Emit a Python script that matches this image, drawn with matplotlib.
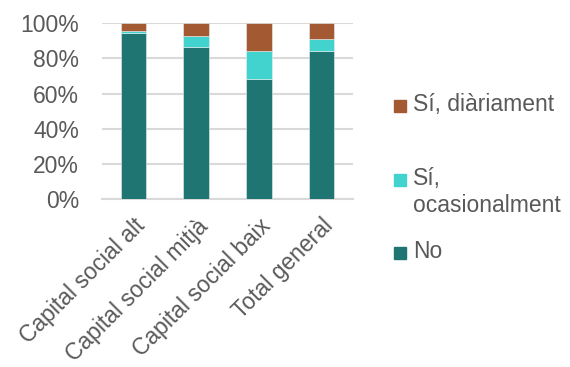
import matplotlib.pyplot as plt
from matplotlib.patches import Rectangle

plt.rcParams['font.family'] = ['Liberation Sans', 'DejaVu Sans']

categories = ['Capital social alt', 'Capital social mitjà', 'Capital social baix', 'Total general']
no_vals = [94.7, 86.7, 68.5, 84.4]
ocasional_vals = [1.1, 5.9, 15.8, 6.9]
diari_vals = [4.2, 7.4, 15.7, 8.7]

series_labels = ['No', 'Sí,\nocasionalment', 'Sí, diàriament']
series_colors = ['#1E7572', '#43D3CF', '#A35A32']
text_color = '#595959'
fs = 16.5

fig = plt.figure(figsize=(5.7, 3.67), dpi=100)
ax = fig.add_axes([0.179, 0.457, 0.44, 0.4795])

x = list(range(len(categories)))
bottom = [0.0] * len(categories)
for vals, color in zip([no_vals, ocasional_vals, diari_vals], series_colors):
    fr = [v / 100 for v in vals]
    ax.bar(x, fr, width=0.41, bottom=bottom, color=color, edgecolor='#E8F0F0', linewidth=0.4, zorder=3)
    bottom = [b + f for b, f in zip(bottom, fr)]

ax.set_xlim(-0.5, len(categories) - 0.5)
ax.set_ylim(0, 1)
ax.set_yticks([0, 0.2, 0.4, 0.6, 0.8, 1.0])
ax.set_yticklabels(['0%', '20%', '40%', '60%', '80%', '100%'])
ax.grid(axis='y', color='#D9D9D9', linewidth=1.5, zorder=0)
for s in ['top', 'right', 'left']:
    ax.spines[s].set_visible(False)
ax.spines['bottom'].set_color('#D9D9D9')
ax.spines['bottom'].set_linewidth(1.5)
ax.tick_params(axis='both', length=0, labelsize=fs, labelcolor=text_color)
ax.tick_params(axis='y', pad=16.5)
ax.set_xticks(x)
ax.set_xticklabels(categories, rotation=45, ha='right', va='top', rotation_mode='anchor')
ax.tick_params(axis='x', pad=11)

# legend drawn by hand so the square sits at the first text line
leg_items = [(series_labels[2], series_colors[2], 106),
             (series_labels[1], series_colors[1], 180),
             (series_labels[0], series_colors[0], 253)]
W, H = 570, 367
for label, color, yc in leg_items:
    fig.patches.append(Rectangle((394 / W, 1 - (yc + 6) / H), 12 / W, 12 / H,
                                 transform=fig.transFigure, color=color))
    fig.text(413 / W, 1 - (yc - 13) / H, label, fontsize=fs, color=text_color,
             va='top', ha='left', linespacing=1.2)

fig.savefig('out.png', dpi=100)
